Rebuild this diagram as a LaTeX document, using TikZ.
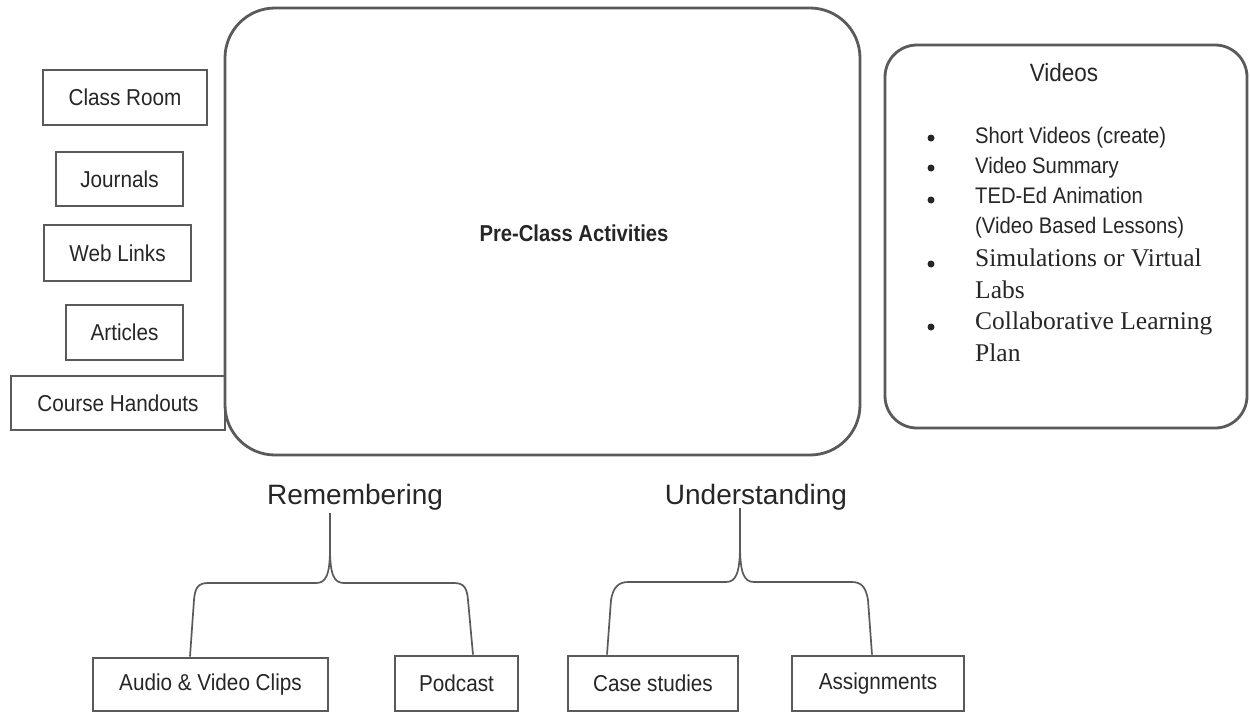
\documentclass[tikz,border=0pt]{standalone}
\usepackage{fontspec}
\setmainfont{Liberation Sans}
\newfontfamily\serifft{Liberation Serif}
\newfontfamily\narrowsans[FakeStretch=0.9]{Liberation Sans}
\newfontfamily\narrowbold[FakeStretch=0.88]{Liberation Sans Bold}
\definecolor{linegray}{HTML}{5A5A5A}
\definecolor{txtgray}{HTML}{262626}
\begin{document}
\begin{tikzpicture}[x=1pt,y=-1pt,
  every node/.style={text=txtgray},
  sbox/.style={draw=linegray, line width=2.8pt, inner sep=0pt, font=\narrowsans\fontsize{23}{26}\selectfont},
  rbox/.style={draw=linegray, line width=2.8pt, inner sep=0pt},
  conn/.style={draw=linegray, line width=1.7pt},
  item/.style={anchor=west, align=left, inner sep=0pt, font=\narrowsans\fontsize{22.5}{30}\selectfont},
  sitem/.style={anchor=west, align=left, inner sep=0pt, font=\serifft\fontsize{25.5}{31.5}\selectfont},
  bul/.style={circle, fill=txtgray, inner sep=0pt, minimum size=7pt}
]
\useasboundingbox (0,0) rectangle (1250,713);
\fill[white] (0,0) rectangle (1250,713);

% main box
\node[rbox, rounded corners=50pt, minimum width=635pt, minimum height=447pt] (pre) at (542.5,231.5) {};
\node[font=\narrowbold\fontsize{23}{26}\selectfont, inner sep=0pt] (pretext) at (574,233) {Pre-Class Activities};

% left boxes
\node[sbox, minimum width=164pt, minimum height=55pt] (cr) at (125,97.5) {Class Room};
\node[sbox, minimum width=127pt, minimum height=54pt] (jo) at (119.5,179) {Journals};
\node[sbox, minimum width=147pt, minimum height=56pt] (wl) at (117.5,253) {Web Links};
\node[sbox, minimum width=117pt, minimum height=55pt] (ar) at (124.5,332.5) {Articles};
\node[sbox, minimum width=214pt, minimum height=54pt] (ch) at (118,403) {Course Handouts};

% videos box
\node[rbox, rounded corners=32pt, minimum width=362pt, minimum height=383pt] (vid) at (1066,236.5) {};
\node[font=\narrowsans\fontsize{25}{28}\selectfont, inner sep=0pt] (vt) at (1064,73) {Videos};
\node[bul] (b1) at (931,138) {};
\node[item] (i1) at (975,138) {Short Videos (create)};
\node[bul] (b2) at (931,168) {};
\node[item] (i2) at (975,168) {Video Summary};
\node[bul] (b3) at (931,200) {};
\node[item, anchor=north west] (i3) at (975,187) {TED-Ed Animation\\(Video Based Lessons)};
\node[bul] (b4) at (931,264) {};
\node[sitem, anchor=north west] (i4) at (975,249) {Simulations or Virtual\\Labs};
\node[bul] (b5) at (931,327) {};
\node[sitem, anchor=north west] (i5) at (975,312) {Collaborative Learning\\Plan};

% category labels
\node[font=\fontsize{28}{32}\selectfont, inner sep=0pt] (rem) at (355,497) {Remembering};
\node[font=\fontsize{28}{32}\selectfont, inner sep=0pt] (und) at (756,497) {Understanding};

% bottom boxes
\node[sbox, minimum width=235pt, minimum height=53pt] (av) at (210.5,684.5) {Audio \& Video Clips};
\node[sbox, minimum width=123pt, minimum height=55pt] (po) at (456.5,683.5) {Podcast};
\node[sbox, minimum width=170pt, minimum height=55pt] (cs) at (653,683.5) {Case studies};
\node[sbox, minimum width=172pt, minimum height=55pt] (as) at (878,683.5) {Assignments};

% braces
\coordinate (remtip) at (330,513);
\coordinate (avend) at (190,0 |- av.north);
\coordinate (poend) at (473,0 |- po.north);
\draw[conn] (remtip) -- (330,548) .. controls (330,575) and (326,583) .. (316,583)
  -- (208,583) .. controls (198,583) and (195,588) .. (194,600) -- (avend);
\draw[conn] (remtip) -- (330,548) .. controls (330,575) and (334,583) .. (344,583)
  -- (454,583) .. controls (464,583) and (467,588) .. (468,600) -- (poend);

\coordinate (undtip) at (740,508);
\coordinate (csend) at (607,0 |- cs.north);
\coordinate (asend) at (872,0 |- as.north);
\draw[conn] (undtip) -- (740,545) .. controls (740,573) and (736,582) .. (726,582)
  -- (628,582) .. controls (618,582) and (613,588) .. (611,600) -- (csend);
\draw[conn] (undtip) -- (740,545) .. controls (740,573) and (744,582) .. (754,582)
  -- (852,582) .. controls (862,582) and (866,588) .. (868,600) -- (asend);
\end{tikzpicture}
\end{document}
